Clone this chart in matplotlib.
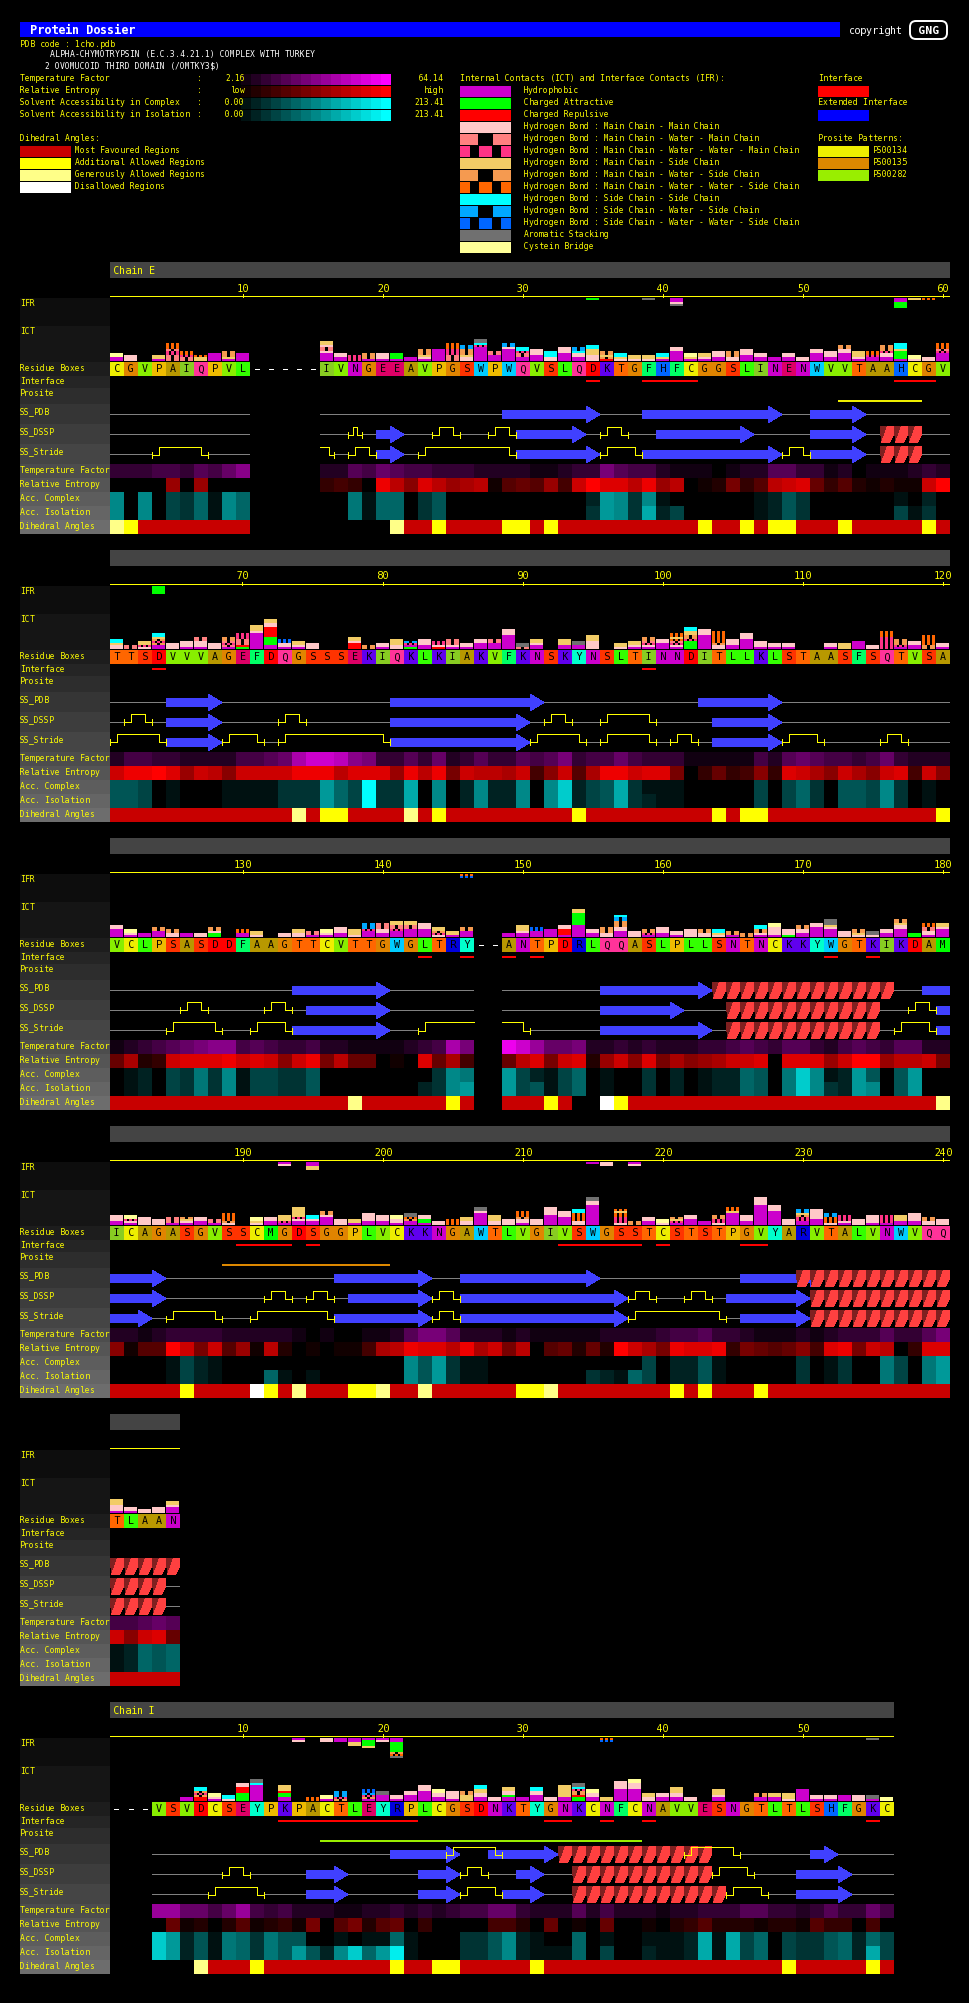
import matplotlib
matplotlib.use("Agg")
import matplotlib.pyplot as plt
from matplotlib.patches import Polygon, FancyBboxPatch

FONT = "DejaVu Sans Mono"
plt.rcParams["font.family"] = [FONT, "DejaVu Sans"]
plt.rcParams["text.hinting"] = "force_autohint"
plt.rcParams["text.hinting_factor"] = 1
W, H = 970, 2003
PX = 14.0   # pixels per residue

# ---------------- chain E, residues 1-60
P1_SEQ = "CGVPAIQPVL-----IVNGEEAVPGSWPWQVSLQDKTGFHFCGGSLINENWVVTAAHCGV"
P1_TEMP = "3334435468 0000022546 5443332222 1123375442 1110122553 3120111232"
P1_ENT = "0000909000 000003430E B8DB9AB156 594CFDDBE9 B012735BCD 63521211CF"
P1_ACC = "8080436186 0000000716 6035000000 0000298381 0000001253 0000001020"
P1_ISO = "8080436186 0000000716 6035000000 00003983A2 4000001253 0000004130"
P1_DIH = "gyrrrrrrrr .......... grryrrrryy ryrrrrrrrr rryrryryyr rryrrrrryr"
P1_ICT = ("hhbb mmm _ hss MMMnnMttt MMntt sst hhhh hsSSS hhhh _ _ _ _ _ hhhhmMMmss hhmm nnn hSSS hmmm "
          "haaa hh hmsSSS hhhhhh MMMnnnttt mmsSSSCC hhhhhhhncrr hhhMM hhhhhhmCC hhMMncc hhhmmm mmccc "
          "hhhhmmm hhmmcCC mmmssscc eSsSS mscc mss mss hscc hhhhhmm hsbb hmss hhmmm mmSSS hhhmmm hhmm hh "
          "hhmm mm hhhhmm hhmmm hhhhmmSS hmsss hhntt hhmmnSSS haaaasccc mbb mm hhhhnMttt")
P1_IFR_RES = [35, 39, 41, 57, 58, 59]
P1_IFR = ["a", "r", "hhmr", "hhaaa", "s", "t"]
P1_INTERFACE = [35, 39, 40, 41, 42, 57, 58, 59]
P1_PROSITE = [53, 54, 55, 56, 57, 58]
P1_PROSITE_COLOR = "#EEEE00"
P1_PDB = "---------- .....----- --------EE EEEE>---EE EEEEEEE>-- EEE>------"
P1_DSSP = "---------- .....--T-E >--TT--TTE EEE>-TT--E EEEEE>---- EEE>-HHH--"
P1_STRIDE = "---TTTT--- .....T-TTE >-TTTTTTTE EEEE>TTTEE EEEEEEE>TT EEE>-HHH--"

# ---------------- chain E, residues 61-120
P2_SEQ = "TTSDVVVAGEFDQGSSSEKIQKLKIAKVFKNSKYNSLTINNDITLLKLSTAASFSQTVSA"
P2_TEMP = "2443322224 456ACCB873 3536235335 4573446433 3111114256 5443463222"
P2_ENT = "CEEFD9CB8C CCCEEEBDDD 9EBE7CBBAC 48C5AEECDD 70363483DC A8CA8CD4C8"
P2_ACC = "5540100011 11333964F3 3A08028228 08C245A311 1000004046 3055483010"
P2_ISO = "5540100011 11333964F3 3A08028228 08C245A321 1000004046 3055483010"
P2_DIH = "rrrrrrrrrr rrrgryyrrr rgryrrrrrr rrryrrrrrr rrryryyrrr rrrrrrrrry"
P2_ICT = ("mmscc MM mnss hhSnSscc mmm hmmm hmmmMM mmm hMnMSS aeMMMnnn hhhhhhhhmsss hhaaaaeeeeemmss hmmdd "
          "hmss mmm _ _ eeemss SS hmm mmsss ahnC hhmmm emnn hmMMM hmm hhhmm hhhMM hhhhhhhmmm Mrr hhmss _ "
          "hhsss hhrr mmmmsss _ mss hmss hmnMSS hhhmm hmnMtstt aaaanSSsscc hhhhhhhmmm mmStttttt hhmmm "
          "hhhhhmmm hmmm hmm hmm _ _ hmm sss hhhh mm nnnnnnttt hnSSS hhmm SSttttt hmm")
P2_IFR_RES = [64]
P2_IFR = ["aaaa"]
P2_INTERFACE = [64, 99]
P2_PROSITE = []
P2_PROSITE_COLOR = "#EEEE00"
P2_PDB = "----EEE>-- ---------- EEEEEEEEEE >--------- --EEEEE>-- ----------"
P2_DSSP = "-TT-EEE>-- --TT------ EEEEEEEEE> -TT--TTTT- ---EEEE>-- ----------"
P2_STRIDE = "TTTTEEE>TT T-TTTTTTTT EEEEEEEEE> TTTT-TTTT- TT-EEEE>TT T----TT---"

# ---------------- chain E, residues 121-180
P3_SEQ = "VCLPSASDDFAAGTTCVTTGWGLTRY--ANTPDRLQQASLPLLSNTNCKKYWGTKIKDAM"
P3_TEMP = "1234567884 5433422111 1234A700EC 9667223232 2233454355 3245435522"
P3_ENT = "6A23CDDDEC DC8CE7B660 10D6A4006B D7CD29C8D7 A89ACCD0DD D9CFF9BBC7"
P3_ACC = "0120437381 4433500000 0003870094 2146010030 201226507C 8129505900"
P3_ISO = "0120437381 4433500000 0023890094 5146010030 201226507C 8329805900"
P3_DIH = "rrrrrrrrrr rrrrrrrgrr rrrryr..rr ryr..wyrrr rrrrrrrrrr rrrrrrrrrg"
P3_ICT = ("hhhhmm hmbb hh hhhSS mmSS hh mm aamSS _ hhtt mss _ mm mmss hMM hmbb hhmmm msss hhhnCCC hhmmMMM "
          "hhhnMMss hhhhMMss hhhhmmm mnSss hss hhhSS _ _ hh hhmsss hhhdd hhhh heeemm hhhhhhaaaaaass hhmm "
          "mmSSS hhhmmSSSCCc mmm hnSS hhmmm hmm mmmm mmSS mscc hSS SS hmSScc hmmmmbb ammm hhmmSS hhhhhmm "
          "hhhhmsrrr mmm msSS mrr hhmm hhhhmmsSS aa hmmMMtt hhhhmss")
P3_IFR_RES = [146]
P3_IFR = ["td"]
P3_INTERFACE = [143, 146, 149, 151, 172, 175]
P3_PROSITE = []
P3_PROSITE_COLOR = "#EEEE00"
P3_PDB = "---------- ---EEEEEE> ------..-- -----EEEEE EE>HHHHHHH HHHHHH--EE"
P3_DSSP = "-----TT--- -TT-EEEEE> ------..-- -----EEEEE >---HHHHHH HHHHH--TTE"
P3_STRIDE = "----TTTT-- TTTEEEEEE> --TTTT..TT -----EEEEE EE>-HHHHHH HHHHH-TTTE"

# ---------------- chain E, residues 181-240
P4_SEQ = "ICAGASGVSSCMGDSGGPLVCKKNGAWTLVGIVSWGSSTCSTSTPGVYARVTALVNWVQQ"
P4_TEMP = "2212333322 2221010011 2577522212 1111122223 4453321112 1233353357"
P4_ENT = "8155FC7C59 1B2010114A BEDDBEAC7B 056262FCA7 EDDE376568 4DE7CB03DD"
P4_ACC = "0000142100 0000000000 0859311000 0000000040 2251000003 0130074079"
P4_ISO = "0000142100 0610100000 0859311000 0000321640 2251000003 0130074079"
P4_DIH = "rrrrryrrrr wyrgrrryyg rrgrrrrrry ygrrrrrrrr yryrrryrrr rrrrrrrrrr"
P4_ICT = ("hhmmm hmnbb mmmm mmm hMMM hmsS hhmm hMM mStttt _ msbb hhmm hnsss hhmnsssss hhmcc hhhhmSS mmm hss "
          "hhmmmm hhmmm hmmbb hhStrr haamm mm ttt mmss hhhhhhmrr mmsss mmm hmmSttt mmm hhhhhmmmm hhhhmmm "
          "mmttttcc hhhhhhhhhhmmrr _ mnnnttst SS hhmm mbb hnsS hhhmm hh mnnSS hhhhhhstt hhmmm hhhhhhhhhhmmmm "
          "hhhhhhhmmm mmm hhnnSsCC hhhmmmmm mtttCC hmnnn mmm hmmmm hnnnn hhsss hhmmmm mmSS mmm")
P4_IFR_RES = [193, 195, 215, 216, 218]
P4_IFR = ["hm", "hhss", "h", "mm", "hm"]
P4_INTERFACE = [190, 191, 192, 193, 195, 213, 214, 215, 216, 217, 218, 220, 226, 227]
P4_PROSITE = [189, 190, 191, 192, 193, 194, 195, 196, 197, 198, 199, 200]
P4_PROSITE_COLOR = "#DD8800"
P4_PDB = "EEE>------ ------EEEE EE>--EEEEE EEEE>----- -----EEEEE >HHHHHHHHH"
P4_PDB_OVER = "---------- ---------- ---------- ---------- ---------H H---------"
P4_DSSP = "EEE>------ -TT-TT-EEE EE>TTEEEEE EEEEEE>TT- -TT-EEEEE> HHHHHHHHHH"
P4_STRIDE = "EE>-TTTT-- TTTTTTEEEE EE>TTEEEEE EEEEEE>TTT TTTT-EEEE> HHHHHHHHHH"

# ---------------- chain E, residues 241-245
P5_SEQ = "TLAAN"
P5_TEMP = "44565"
P5_ENT = "C8CD6"
P5_ACC = "12656"
P5_ISO = "12656"
P5_DIH = "rrrrr"
P5_ICT = "hmmmsss hmm mm mmm hhhmss"
P5_PDB = "HHHHH"
P5_DSSP = "HHHH-"
P5_STRIDE = "HHHH-"

# ---------------- chain I, residues 1-56
P6_SEQ = "---VSVDCSEYPKPACTLEYRPLCGSDNKTYGNKCNFCNAVVESNGTLTLSHFGKC"
P6_TEMP = "0009966469 4342221122 3232344663 2225242221 2233355332 353364"
P6_ENT = "0000612025 1231705725 6030000442 0601060010 2352221221 533040"
P6_ACC = "000C925176 3755001011 6100033582 1006010011 12A1A46043 356264"
P6_ISO = "000C925176 3759528C69 E100033582 1116040021 12A1A46043 3562A4"
P6_DIH = "......grrr yrrrrrrrrr yrryyrrrrr yrrrrrrrrr rrrrrrrryr rrrryr"
P6_ICT = ("_ _ _ _ _ hh eeSnScc hmbb mcc aaaaeeemm hhhhhhhhcrr _ hhaaesss _ "
          "tt hbb SnCCC _ hSnCdd hhhrr hmm hhhmm hhhhhmmm hhmmbb hmmmm "
          "sssSS hhmmsscc mm hhammss hh hhhmmcc mm hhssssss aaeSSncrr "
          "hhmmbb ss hhhhhhmmmm hhhhhhmmmbb mmss hhmm hhmmsss mm _ hhmsss "
          "_ _ hhSS hhss msss hhhhhh hmm hmm hhh mmm hrr bb")
P6_IFR_RES = [14, 16, 17, 18, 19, 20, 21, 36, 55]
P6_IFR = ["hm", "mm", "hh", "hhss", "haaas", "hm", "hhaaaaaStr", "td", "r"]
P6_INTERFACE = [13, 14, 15, 16, 17, 18, 19, 20, 21, 22, 32, 33, 36, 39, 55]
P6_PROSITE = list(range(16, 39))
P6_PROSITE_COLOR = "#99EE00"
P6_PDB = "...------- ---------- EEEE>..EEE E>HHHHHHHH HHH..----- E>----"
P6_PDB_OVER = "---------- ---------- ----TTTT-- ---------- -TTTT----- ------"
P6_DSSP = "...-----TT ----EE>--- --EE>TT--E >--HHHHHHH HHHTTT---E EE>---"
P6_STRIDE = "...----TTT T---EE>--- --EE>TTTEE >--HHHHHHH HHHHTTT--E EE>---"

# ---------------- colours and legend content
RES_COLORS = dict(D="#FF0000", S="#FF3300", T="#FF6600", G="#E08400", P="#EEBB00", C="#EEEE00",
                  A="#B89800", V="#88EE00", I="#88CC22", L="#33FF00", M="#00FF00", F="#00FF66",
                  Y="#00FFCC", W="#00CCFF", H="#0066FF", R="#0000DD", K="#6000EE", N="#CC00CC",
                  Q="#FF3399", E="#DD0066")
ICT_COLORS = dict(h="#CC00CC", a="#00FF00", e="#FF0000", m="#FFC8C8", M="#FF8080", n="#FF3385",
                  s="#F2CC66", S="#F59A50", t="#FF6600", c="#00FFFF", C="#00A8FF", d="#0066FF",
                  r="#707070", b="#FFFF99")
DIH_COLORS = dict(r="#C80000", y="#FFFF00", g="#FFFF88", w="#FFFFFF")
ICT_CODES = list("haemMnsStcCdrb")
ICT_NAMES = ["Hydrophobic", "Charged Attractive", "Charged Repulsive",
             "Hydrogen Bond : Main Chain - Main Chain",
             "Hydrogen Bond : Main Chain - Water - Main Chain",
             "Hydrogen Bond : Main Chain - Water - Water - Main Chain",
             "Hydrogen Bond : Main Chain - Side Chain",
             "Hydrogen Bond : Main Chain - Water - Side Chain",
             "Hydrogen Bond : Main Chain - Water - Water - Side Chain",
             "Hydrogen Bond : Side Chain - Side Chain",
             "Hydrogen Bond : Side Chain - Water - Side Chain",
             "Hydrogen Bond : Side Chain - Water - Water - Side Chain",
             "Aromatic Stacking", "Cystein Bridge"]
DIH_CODES = list("rygw")
DIH_NAMES = ["Most Favoured Regions", "Additional Allowed Regions",
             "Generously Allowed Regions", "Disallowed Regions"]
PROSITE_NAMES = ["PS00134", "PS00135", "PS00282"]
PROSITE_COLORS = ["#EEEE00", "#DD8800", "#99EE00"]
RAMP_LEVELS = list(range(1, 16))
RAMP_ROWS = [("Temperature Factor", "2.16", "64.14", (1, 0, 1)),
             ("Relative Entropy", "low", "high", (1, 0, 0)),
             ("Solvent Accessibility in Complex", "0.00", "213.41", (0, 1, 1)),
             ("Solvent Accessibility in Isolation", "0.00", "213.41", (0, 1, 1))]
ROW_LABELS = ["IFR", "ICT", "Residue Boxes", "Interface", "Prosite", "SS_PDB", "SS_DSSP", "SS_Stride",
              "Temperature Factor", "Relative Entropy", "Acc. Complex", "Acc. Isolation", "Dihedral Angles"]
ROW_TOPS = [36, 64, 100, 114, 126, 142, 162, 182, 202, 216, 230, 244, 258, 272]
ROW_TEXT = [5, 5, 6, 5, 5, 7, 7, 7, 6, 6, 6, 6, 6]
ROW_GREYS = ["#0D0D0D", "#151515", "#1D1D1D", "#252525", "#2D2D2D", "#353535", "#3D3D3D", "#454545",
             "#4D4D4D", "#555555", "#5D5D5D", "#656565", "#6D6D6D"]

g = globals()
PANELS = []
for i, (first, top, name) in enumerate([(1, 262, "Chain E"), (61, 550, ""), (121, 838, ""),
                                        (181, 1126, ""), (241, 1414, ""), (1, 1702, "Chain I")], 1):
    PANELS.append(dict(first=first, top=top, name=name,
                       seq=g[f"P{i}_SEQ"], temp=g[f"P{i}_TEMP"], ent=g[f"P{i}_ENT"],
                       acc=g[f"P{i}_ACC"], iso=g[f"P{i}_ISO"], dih=g[f"P{i}_DIH"],
                       ict=g[f"P{i}_ICT"].split(),
                       ifr_res=g.get(f"P{i}_IFR_RES", []), ifr=g.get(f"P{i}_IFR", []),
                       interface=g.get(f"P{i}_INTERFACE", []), prosite=g.get(f"P{i}_PROSITE", []),
                       prosite_color=g.get(f"P{i}_PROSITE_COLOR", "#EEEE00"),
                       ss=[g[f"P{i}_PDB"], g[f"P{i}_DSSP"], g[f"P{i}_STRIDE"]],
                       over=g.get(f"P{i}_PDB_OVER", "")))


def clean(s):
    return s.replace(" ", "")


def level_color(ch, base):
    v = int(ch, 16) / 15
    return (base[0] * v, base[1] * v, base[2] * v)


def blocks(code):
    """Spans of a 13-pixel bar covered by the blocks of one contact type."""
    if code in "MSC":
        return [(0, 5), (8, 5)]
    if code in "ntd":
        return [(0, 3), (5, 3), (10, 3)]
    return [(0, 13)]


def text(ax, x, y, s, px=5, color="#FFFF00", ha="left", weight="normal"):
    return ax.text(x, y, s, fontsize=px / 0.602 * 0.72, color=color, ha=ha, va="center",
                   family=FONT, weight=weight)


fig = plt.figure(figsize=(W / 100, H / 100), dpi=100, facecolor="black")
page = fig.add_axes([0, 0, 1, 1], facecolor="black")
page.set_xlim(0, W)
page.set_ylim(H, 0)
page.axis("off")


def rect(ax, x, y, w, h, color):
    ax.bar(x, h, width=w, bottom=y, align="edge", color=color, linewidth=0, antialiased=False)


# ---------------- page header
rect(page, 20, 22, 820, 15, "#0000FF")
text(page, 30, 30, "Protein Dossier", 7, "white", weight="bold")
text(page, 849, 30.5, "copyright", 5.9, "white")
page.add_patch(FancyBboxPatch((915, 26), 27, 8, boxstyle="round,pad=5,rounding_size=6", fc="black", ec="white", lw=1.4))
text(page, 928.5, 30.5, "GNG", 6.6, "white", ha="center", weight="bold")
text(page, 20, 44.5, "PDB code : 1cho.pdb")
text(page, 50, 54.5, "ALPHA-CHYMOTRYPSIN (E.C.3.4.21.1) COMPLEX WITH TURKEY", color="white")
text(page, 45, 66.5, "2 OVOMUCOID THIRD DOMAIN (/OMTKY3$)", color="white")

# ---------------- colour ramps
for r, (label, lo, hi, base) in enumerate(RAMP_ROWS):
    y = 74 + 12 * r
    text(page, 20, y + 4.5, label)
    text(page, 197, y + 4.5, ":")
    text(page, 245, y + 4.5, lo, ha="right")
    text(page, 444, y + 4.5, hi, ha="right")
    for lv in RAMP_LEVELS:
        rect(page, 231 + 10 * lv, y, 10, 11, level_color(format(lv, "X"), base))

# ---------------- dihedral legend
text(page, 20, 138.5, "Dihedral Angles:")
for r, (code, name) in enumerate(zip(DIH_CODES, DIH_NAMES)):
    rect(page, 20, 146 + 12 * r, 51, 11, DIH_COLORS[code])
    text(page, 75, 150.5 + 12 * r, name)

# ---------------- contact legend
text(page, 460, 78.5, "Internal Contacts (ICT) and Interface Contacts (IFR):")
LEGEND_SPANS = dict(M=[(0, 18), (33, 18)], S=[(0, 18), (33, 18)], C=[(0, 18), (33, 18)],
                    n=[(0, 10), (19, 13), (41, 10)], t=[(0, 10), (19, 13), (41, 10)],
                    d=[(0, 10), (19, 13), (41, 10)])
for r, (code, name) in enumerate(zip(ICT_CODES, ICT_NAMES)):
    for off, w in LEGEND_SPANS.get(code, [(0, 51)]):
        rect(page, 460 + off, 86 + 12 * r, w, 11, ICT_COLORS[code])
    text(page, 524, 90.5 + 12 * r, name)

# ---------------- interface and prosite legends
text(page, 818, 78.5, "Interface")
rect(page, 818, 86, 51, 11, "#FF0000")
text(page, 818, 102.5, "Extended Interface")
rect(page, 818, 110, 51, 11, "#0000FF")
text(page, 818, 138.5, "Prosite Patterns:")
for r, (name, col) in enumerate(zip(PROSITE_NAMES, PROSITE_COLORS)):
    rect(page, 818, 146 + 12 * r, 51, 11, col)
    text(page, 873, 150.5 + 12 * r, name)


def draw_stack(ax, k, string, start, direction):
    """One stack of 2-pixel contact units; direction -1 grows upward, +1 downward."""
    for n, code in enumerate(string):
        y = start + 2 * n if direction > 0 else start - 2 * (n + 1)
        for off, w in blocks(code):
            rect(ax, k - 0.5 + off / PX, y, w / PX, 2, ICT_COLORS[code])


def draw_ss(ax, s, first, base, coil=True):
    dx = 1 / PX
    for i, c in enumerate(s):
        k = first + i
        x0 = k - 0.5
        if c == "-" and coil:
            rect(ax, x0, base - 0.5, 1, 1, "#808080")
        elif c == "E":
            rect(ax, x0, base - 4.5, 1, 9, "#4040FF")
        elif c == ">":
            ax.add_patch(Polygon([(x0, base - 8.5), (x0 + 1, base), (x0, base + 8.5)],
                                 fc="#4040FF", lw=0, antialiased=False))
        elif c == "H":
            ax.add_patch(Polygon([(x0 + 1 * dx, base - 8.5), (x0 + 9 * dx, base - 8.5), (x0 + 7 * dx, base + 2),
                                  (x0 + 5 * dx, base + 8.5), (x0 + 2 * dx, base + 6), (x0 + 0 * dx, base - 3)],
                                 fc="#802020", lw=0, antialiased=False))
            ax.add_patch(Polygon([(x0 + 1.5 * dx, base + 8.5), (x0 + 9.5 * dx, base + 8.5),
                                  (x0 + 14 * dx, base - 1), (x0 + 14 * dx, base - 8.5), (x0 + 7.5 * dx, base - 8.5)],
                                 fc="#FF4040", lw=0, antialiased=False))
    i = 0
    while i < len(s):
        if s[i] != "T":
            i += 1
            continue
        j = i
        while j + 1 < len(s) and s[j + 1] == "T":
            j += 1
        left = first + i - 0.5
        right = first + j + 0.5
        inset = (7 if j > i else 4.5) * dx
        open_l = i > 0 and s[i - 1] == "."
        open_r = j + 1 < len(s) and s[j + 1] == "."
        xs, ys = [], []
        if open_l:
            xs += [left]
            ys += [base - 8]
        else:
            xs += [left, left + inset, left + inset]
            ys += [base, base, base - 8]
            ax.plot([left, left], [base - 3, base + 3], color="#FFFF00", lw=0.72, antialiased=False)
        if open_r:
            xs += [right]
            ys += [base - 8]
        else:
            xs += [right - inset, right - inset, right]
            ys += [base - 8, base, base]
            ax.plot([right, right], [base - 3, base + 3], color="#FFFF00", lw=0.72, antialiased=False)
        ax.plot(xs, ys, color="#FFFF00", lw=0.72, antialiased=False, solid_joinstyle="miter")
        i = j + 1


for p in PANELS:
    seq = p["seq"]
    first = p["first"]
    n = len(seq)
    top = p["top"]
    for key in ("temp", "ent", "acc", "iso", "dih"):
        assert len(clean(p[key])) == n, (first, key, len(clean(p[key])), n)
    assert len(p["ict"]) == n, (first, "ict", len(p["ict"]), n)
    for s in p["ss"]:
        assert len(clean(s)) == n, (first, "ss", s, len(clean(s)), n)

    # row labels on the page
    for r, label in enumerate(ROW_LABELS):
        rect(page, 20, top + ROW_TOPS[r], 90, ROW_TOPS[r + 1] - ROW_TOPS[r], ROW_GREYS[r])
        text(page, 20, top + ROW_TOPS[r] + ROW_TEXT[r] + 0.5, label)

    # panel axes: x in residue numbers, y in pixels below the panel header
    ax = fig.add_axes([110 / W, 1 - (top + 272) / H, PX * n / W, 272 / H], facecolor="none")
    ax.set_xlim(first - 0.5, first + n - 0.5)
    ax.set_ylim(272, 0)
    ax.axis("off")

    rect(ax, first - 0.5, 0, n, 16, "#444444")
    if p["name"]:
        text(ax, first - 0.5 + 3 / PX, 8.5, p["name"], 6)
    rect(ax, first - 0.5, 34, n, 1, "#FFFF00")
    for k in range(first, first + n):
        if k % 10 == 0:
            rect(ax, k - 0.5 / PX, 32, 1 / PX, 4, "#FFFF00")
            text(ax, k, 26.5, str(k), 6, ha="center")

    # residue boxes, with a short white dash for each residue missing from the structure
    for i, c in enumerate(seq):
        k = first + i
        if c == "-":
            rect(ax, k - 2.5 / PX, 107, 5 / PX, 1, "white")
        else:
            rect(ax, k - 0.5, 100, 1, 14, RES_COLORS[c])
            text(ax, k, 107.5, c, 6, "black", ha="center")

    # contact stacks
    for i, stack in enumerate(p["ict"]):
        if stack != "_":
            draw_stack(ax, first + i, stack, 99, -1)
    for k, stack in zip(p["ifr_res"], p["ifr"]):
        draw_stack(ax, k, stack, 36, 1)

    # interface and prosite strips
    for k in p["interface"]:
        rect(ax, k - 0.5, 118, 1, 2, "#FF0000")
    for k in p["prosite"]:
        rect(ax, k - 0.5, 138, 1, 2, p["prosite_color"])

    # secondary structure
    for s, base in zip(p["ss"], (152.5, 172.5, 192.5)):
        draw_ss(ax, clean(s), first, base)
    if p["over"]:
        draw_ss(ax, clean(p["over"]), first, 152.5, coil=False)

    # heat rows
    for string, y, base in ((p["temp"], 202, (1, 0, 1)), (p["ent"], 216, (1, 0, 0)),
                            (p["acc"], 230, (0, 1, 1)), (p["iso"], 244, (0, 1, 1))):
        for i, ch in enumerate(clean(string)):
            if ch != "0":
                rect(ax, first + i - 0.5, y, 1, 14, level_color(ch, base))
    for i, ch in enumerate(clean(p["dih"])):
        if ch != ".":
            rect(ax, first + i - 0.5, 258, 1, 14, DIH_COLORS[ch])

fig.savefig("out.png", dpi=100, facecolor="black")
